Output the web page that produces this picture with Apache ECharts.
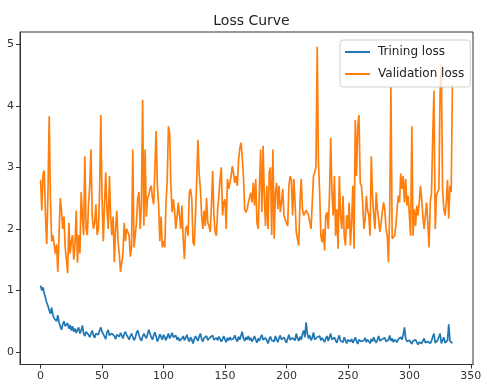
<!DOCTYPE html>
<html>
<head>
<meta charset="utf-8">
<script src="https://cdn.jsdelivr.net/npm/echarts@6/dist/echarts.min.js"></script>
<style>
  html, body { margin: 0; padding: 0; background: #fff; }
  #loss_chart { width: 487px; height: 392px; }
</style>
</head>
<body>
<div id="loss_chart"></div>
<script>
// epochs 0..335, values
var train_loss = [
    1.08, 1.0, 1.05, 0.95, 0.88, 0.8, 0.75, 0.68, 0.62, 0.72,
    0.6, 0.55, 0.58, 0.5, 0.6, 0.48, 0.42, 0.36, 0.45, 0.5,
    0.42, 0.4, 0.47, 0.38, 0.44, 0.35, 0.42, 0.33, 0.38, 0.31,
    0.36, 0.4, 0.3, 0.35, 0.43, 0.3, 0.26, 0.33, 0.36, 0.28,
    0.24, 0.3, 0.35, 0.27, 0.23, 0.3, 0.33, 0.28, 0.35, 0.4,
    0.33, 0.3, 0.25, 0.21, 0.32, 0.36, 0.27, 0.24, 0.3, 0.33,
    0.26, 0.21, 0.28, 0.3, 0.25, 0.31, 0.27, 0.22, 0.29, 0.33,
    0.28, 0.24, 0.2, 0.26, 0.3, 0.27, 0.19, 0.23, 0.31, 0.35,
    0.28, 0.22, 0.18, 0.25, 0.3, 0.26, 0.22, 0.29, 0.36, 0.3,
    0.24, 0.2, 0.27, 0.32, 0.25, 0.17, 0.22, 0.29, 0.26, 0.2,
    0.28, 0.24, 0.19, 0.25, 0.3, 0.22, 0.26, 0.31, 0.24, 0.21,
    0.27, 0.2, 0.24, 0.18, 0.15, 0.22, 0.26, 0.19, 0.23, 0.28,
    0.21, 0.17, 0.24, 0.2, 0.14, 0.21, 0.26, 0.22, 0.18, 0.25,
    0.3, 0.21, 0.17, 0.23, 0.2, 0.26, 0.19, 0.16, 0.24, 0.21,
    0.27, 0.2, 0.18, 0.23, 0.19, 0.25, 0.22, 0.17, 0.21, 0.26,
    0.2, 0.16, 0.23, 0.19, 0.24, 0.2, 0.18, 0.22, 0.27, 0.21,
    0.17, 0.25, 0.2, 0.23, 0.33, 0.22, 0.18, 0.24, 0.2, 0.26,
    0.19, 0.23, 0.17, 0.21, 0.26, 0.2, 0.15, 0.22, 0.18, 0.24,
    0.28, 0.2, 0.17, 0.23, 0.19, 0.14, 0.21, 0.25, 0.19, 0.22,
    0.17, 0.26, 0.2, 0.16, 0.23, 0.27, 0.2, 0.18, 0.24, 0.19,
    0.15, 0.22, 0.28, 0.2, 0.17, 0.23, 0.26, 0.19, 0.3, 0.22,
    0.18, 0.25, 0.2, 0.29, 0.35, 0.24, 0.48, 0.3, 0.22, 0.27,
    0.19, 0.23, 0.32, 0.2, 0.17, 0.24, 0.21, 0.26, 0.19, 0.23,
    0.2, 0.16, 0.22, 0.26, 0.18, 0.21, 0.3, 0.2, 0.17, 0.24,
    0.19, 0.15, 0.22, 0.27, 0.18, 0.21, 0.16, 0.24, 0.19, 0.14,
    0.2, 0.23, 0.17, 0.21, 0.15, 0.19, 0.24, 0.18, 0.13, 0.2,
    0.22, 0.17, 0.15, 0.19, 0.23, 0.16, 0.2, 0.18, 0.14, 0.21,
    0.17, 0.24, 0.19, 0.15, 0.2, 0.26, 0.18, 0.16, 0.21, 0.19,
    0.23, 0.17, 0.14, 0.2, 0.27, 0.18, 0.22, 0.16, 0.2, 0.18,
    0.16, 0.21, 0.18, 0.24, 0.2, 0.28, 0.4, 0.22, 0.17, 0.14,
    0.19, 0.16, 0.13, 0.18, 0.15, 0.2, 0.17, 0.12, 0.16, 0.19,
    0.14, 0.18, 0.22, 0.15, 0.13, 0.17, 0.2, 0.14, 0.18, 0.25,
    0.3, 0.15, 0.12, 0.19, 0.16, 0.3, 0.14, 0.17, 0.24, 0.15,
    0.13, 0.19, 0.45, 0.18, 0.15, 0.14
];

var val_loss = [
    2.8, 2.3, 2.9, 2.95, 2.2, 1.75, 2.6, 3.83, 2.5, 1.8,
    1.9, 1.75, 1.6, 1.75, 1.3, 1.9, 2.5, 2.3, 2.0, 2.2,
    1.7, 1.5, 1.28, 2.1, 1.6, 1.8, 1.9, 1.5, 1.75, 2.3,
    1.45, 1.9, 1.6, 2.6, 2.2, 1.9, 3.18, 2.0, 1.9, 2.4,
    2.7, 3.29, 2.2, 2.0, 2.1, 2.4, 1.9, 2.0, 2.6, 3.85,
    2.5, 1.8, 2.4, 2.92, 2.3, 2.0, 2.86, 2.2, 1.9, 2.2,
    1.46, 2.0, 2.3, 1.8, 1.6, 1.3, 1.45, 1.6, 2.1, 1.8,
    2.0, 1.95, 1.9, 1.55, 1.7, 3.29, 1.7, 1.9, 2.1, 2.5,
    2.6, 2.0, 2.4, 4.1, 2.05, 3.29, 2.2, 2.5, 2.55, 2.65,
    2.7, 2.5, 2.4, 3.0, 3.59, 2.7, 2.4, 1.8, 2.2, 1.7,
    1.8, 1.7, 2.4, 2.8, 3.67, 3.55, 2.7, 2.27, 2.48, 2.3,
    2.0, 2.2, 2.43, 2.22, 2.0, 2.38, 1.84, 1.51, 2.0, 2.05,
    1.89, 2.59, 2.65, 2.48, 1.78, 1.73, 2.22, 2.81, 3.45, 2.9,
    2.65, 2.22, 2.0, 2.3, 2.05, 2.5, 2.1, 2.05, 1.95, 2.38,
    2.94, 2.22, 1.95, 1.89, 2.3, 2.54, 2.81, 3.0, 2.22, 2.43,
    2.48, 2.0, 2.81, 2.65, 2.75, 2.86, 3.02, 2.9, 2.75, 2.86,
    2.7, 3.1, 3.3, 3.4, 3.18, 2.86, 2.32, 2.27, 2.32, 2.43,
    2.43, 2.59, 2.43, 2.75, 2.38, 2.81, 2.1, 2.0, 2.0, 3.29,
    2.27, 3.35, 2.5, 2.05, 2.7, 2.0, 2.92, 3.0, 1.9, 3.29,
    1.84, 2.59, 2.75, 2.32, 2.7, 2.27, 2.43, 2.65, 2.22, 2.15,
    2.1, 2.05, 2.7, 2.86, 2.8, 2.22, 2.81, 2.43, 1.95, 1.84,
    1.73, 2.43, 2.81, 2.32, 2.22, 2.22, 2.3, 2.32, 2.22, 2.22,
    2.0, 2.43, 2.86, 2.92, 3.0, 4.96, 3.1, 2.6, 1.89, 1.78,
    2.0, 1.65, 2.22, 2.27, 2.0, 2.54, 3.48, 2.6, 2.22, 2.86,
    1.89, 2.32, 1.68, 2.86, 2.22, 2.0, 2.54, 1.89, 1.73, 2.22,
    2.0, 2.43, 1.73, 2.1, 2.7, 1.68, 3.77, 2.86, 3.67, 3.85,
    2.75, 2.7, 2.43, 2.0, 2.15, 2.54, 2.3, 2.22, 1.89, 3.18,
    2.54, 2.22, 2.0, 2.59, 2.32, 2.15, 1.95, 2.1, 2.27, 2.43,
    2.32, 2.0, 1.89, 1.46, 2.32, 4.31, 1.84, 1.84, 1.89, 2.05,
    2.32, 2.54, 2.43, 2.9, 2.65, 2.86, 2.43, 2.81, 2.38, 2.54,
    2.22, 1.89, 3.67, 1.89, 2.32, 2.05, 2.38, 2.22, 2.43, 2.7,
    2.48, 2.2, 2.0, 2.22, 2.43, 2.1, 1.7, 2.43, 2.59, 3.5,
    4.25, 2.0, 2.54, 2.6, 2.65, 4.25, 4.68, 2.65, 2.32, 2.22,
    2.43, 2.8, 2.17, 2.7, 2.6, 4.35
];

var x_ticks = [0, 50, 100, 150, 200, 250, 300, 350];
var y_ticks = [0, 1, 2, 3, 4, 5];
var series_names = ['Trining loss', 'Validation loss'];

var chartDom_loss = document.getElementById('loss_chart');
var myChart_loss = echarts.init(chartDom_loss, null, { renderer: 'canvas' });
var option_loss;

function toPairs(list) {
    var out = [];
    for (var i = 0; i < list.length; i++) {
        out.push([i, list[i]]);
    }
    return out;
}

var axisFont = { color: '#333', fontSize: 11, fontFamily: 'DejaVu Sans' };

option_loss = {
    animation: false,
    backgroundColor: '#fff',
    title: {
        text: 'Loss Curve',
        left: 246.5,
        textAlign: 'center',
        top: 9,
        textStyle: { color: '#222', fontSize: 14, fontWeight: 'normal', fontFamily: 'DejaVu Sans' }
    },
    legend: {
        data: series_names,
        orient: 'vertical',
        left: 340,
        top: 40,
        padding: [6, 6, 7, 5],
        itemGap: 10,
        itemWidth: 25,
        itemHeight: 2,
        icon: 'rect',
        backgroundColor: 'rgba(255,255,255,0.8)',
        borderColor: '#d0d0d0',
        borderWidth: 1,
        borderRadius: 3,
        textStyle: { color: '#222', fontSize: 12, fontFamily: 'DejaVu Sans', padding: [0, 0, 0, 3] }
    },
    grid: {
        left: 20,
        right: 14,
        top: 32,
        bottom: 27.5,
        show: true,
        borderColor: '#333',
        borderWidth: 1
    },
    xAxis: {
        type: 'value',
        min: -16.75,
        max: 351.75,
        axisLine: { show: true, onZero: false, lineStyle: { color: '#333' } },
        axisTick: { show: true, length: 4, customValues: x_ticks, lineStyle: { color: '#333' } },
        axisLabel: Object.assign({ margin: 6, customValues: x_ticks }, axisFont),
        splitLine: { show: false }
    },
    yAxis: {
        type: 'value',
        min: -0.203,
        max: 5.2,
        axisLine: { show: true, onZero: false, lineStyle: { color: '#333' } },
        axisTick: { show: true, length: 4, customValues: y_ticks, lineStyle: { color: '#333' } },
        axisLabel: Object.assign({ margin: 6, customValues: y_ticks }, axisFont),
        splitLine: { show: false }
    },
    series: [{
        name: series_names[0],
        type: 'line',
        data: toPairs(train_loss),
        showSymbol: false,
        symbol: 'none',
        color: '#1f77b4',
        lineStyle: { width: 1.7, color: '#1f77b4' }
    },
    {
        name: series_names[1],
        type: 'line',
        data: toPairs(val_loss),
        showSymbol: false,
        symbol: 'none',
        color: '#ff7f0e',
        lineStyle: { width: 1.7, color: '#ff7f0e' }
    }]
};

option_loss && myChart_loss.setOption(option_loss);
</script>
</body>
</html>
